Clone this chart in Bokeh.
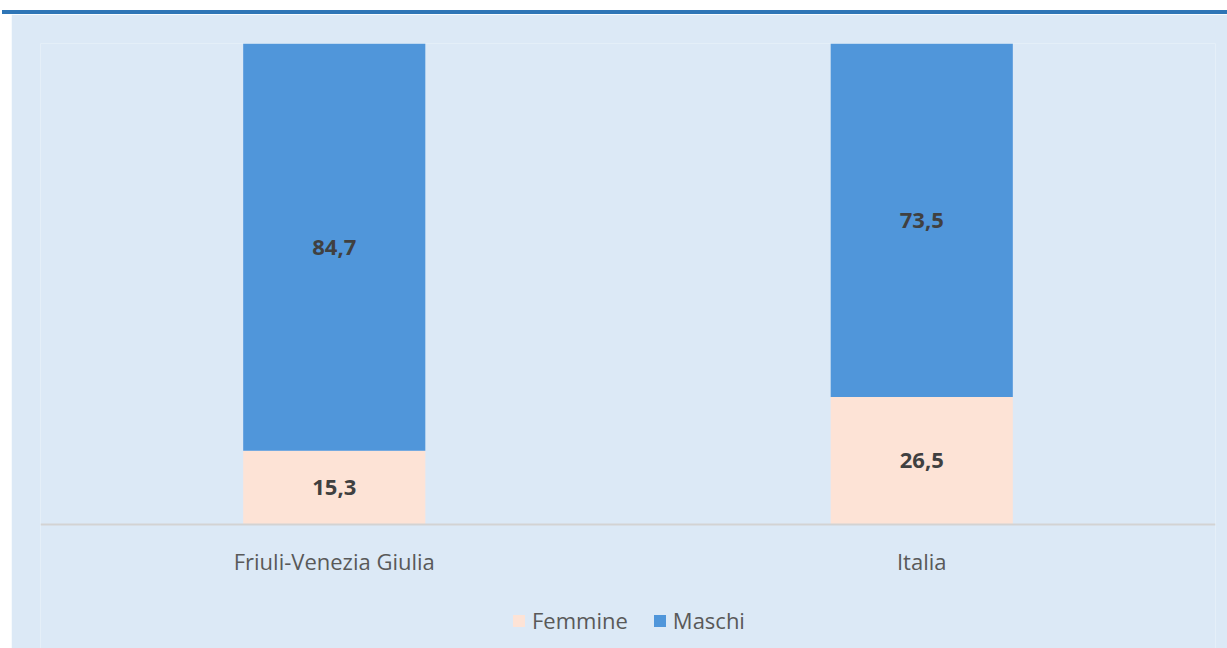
from bokeh.plotting import figure
from bokeh.models import (ColumnDataSource, LabelSet, Legend, LegendItem, Div,
                          FactorRange, Range1d, Span)
from bokeh.layouts import column
from bokeh.core.properties import value
from bokeh.embed import file_html
from bokeh.resources import INLINE

categories = ["Friuli-Venezia Giulia", "Italia"]
femmine = [15.3, 26.5]
maschi = [84.7, 73.5]

femmine_lbl = [f"{v:.1f}".replace(".", ",") for v in femmine]
maschi_lbl = [f"{v:.1f}".replace(".", ",") for v in maschi]

src = ColumnDataSource(dict(
    cat=categories,
    Femmine=femmine,
    Maschi=maschi,
    zero=[0] * len(categories),
    f_mid=[f / 2 for f in femmine],
    m_mid=[f + m / 2 for f, m in zip(femmine, maschi)],
    f_lbl=femmine_lbl,
    m_lbl=maschi_lbl,
))

BG = "#DCE9F6"
FONT = "Open Sans"

p = figure(
    x_range=FactorRange(*categories), y_range=Range1d(-25.8, 100),
    width=1216, height=634, margin=(0, 0, 0, 11),
    x_axis_location=None, y_axis_location=None,
    output_backend="svg", toolbar_location=None,
    min_border_left=29, min_border_right=12,
    min_border_top=29, min_border_bottom=0,
    background_fill_color=BG, border_fill_color=BG,
    outline_line_color=None,
)
p.xgrid.visible = False
p.ygrid.visible = False

rs = p.vbar_stack(["Femmine", "Maschi"], x="cat", width=0.31, source=src,
                  color=["#FDE3D6", "#5096DA"], line_color=None)

# baseline (category axis line) at value 0
p.add_layout(Span(location=0, dimension="width", line_color="#D3D3D3", line_width=2))

for ycol, tcol in (("f_mid", "f_lbl"), ("m_mid", "m_lbl")):
    p.add_layout(LabelSet(x="cat", y=ycol, text=tcol, source=src,
                          text_align="center", text_baseline="middle",
                          text_font=value(FONT), text_font_size="22px",
                          text_font_style="bold", text_color="#404040"))

# category labels under the baseline
p.add_layout(LabelSet(x="cat", y="zero", text="cat", source=src, y_offset=-37,
                      text_align="center", text_baseline="middle",
                      text_font=value(FONT), text_font_size="22px",
                      text_color="#595959"))

legend = Legend(items=[LegendItem(label="Femmine", renderers=[rs[0]]),
                       LegendItem(label="Maschi", renderers=[rs[1]])],
                orientation="horizontal", location=(471, 13),
                background_fill_alpha=0, border_line_color=None,
                label_text_font=FONT, label_text_font_size="22px",
                label_text_color="#595959",
                glyph_width=15, glyph_height=15, spacing=24,
                label_standoff=6, margin=0, padding=6)
p.add_layout(legend)

bar = Div(width=1225, height=4, margin=(10, 0, 0, 2),
          styles={"background-color": "#2E75B6"})

layout = column(bar, p, spacing=0)

open("out.html", "w").write(file_html(layout, INLINE))
